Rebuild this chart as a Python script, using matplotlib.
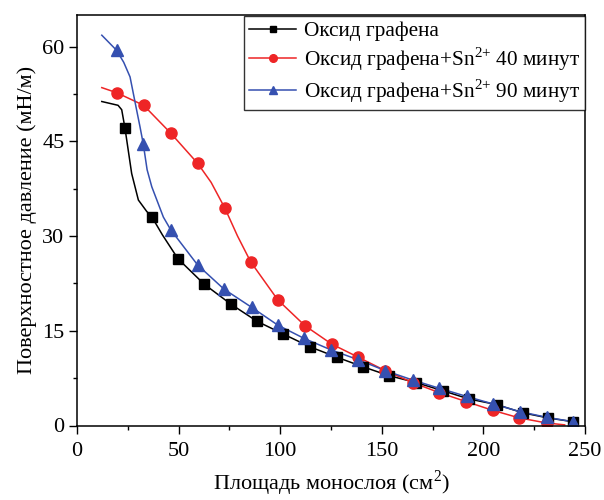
import matplotlib
matplotlib.use("Agg")
import matplotlib.pyplot as plt
from matplotlib.lines import Line2D
from matplotlib.ticker import MultipleLocator

plt.rcParams['font.family'] = ['Liberation Serif', 'DejaVu Serif']
plt.rcParams['mathtext.fontset'] = 'custom'
plt.rcParams['mathtext.rm'] = 'Liberation Serif'

labels = ["Оксид графена",
          "Оксид графена+Sn$^{2{+}}$ 40 минут",
          "Оксид графена+Sn$^{2{+}}$ 90 минут"]

# black: graphene oxide
go_line_x = [12.2, 20.2, 22.0, 23.6, 26.9, 30.2, 34.3, 36.9, 42.0, 49.7, 62.5, 75.8, 88.6, 101.4,
             114.7, 128.0, 140.7, 153.5, 166.8, 180.1, 192.9, 206.7, 219.5, 231.8, 244.1]
go_line_y = [51.3, 50.7, 50.0, 47.1, 39.9, 35.7, 33.9, 33.0, 30.2, 26.4, 22.4, 19.2, 16.5, 14.5,
             12.45, 10.8, 9.3, 7.9, 6.8, 5.5, 4.2, 3.3, 2.0, 1.2, 0.6]
go_mark_x = [23.6, 36.9, 49.7, 62.5, 75.8, 88.6, 101.4, 114.7, 128.0, 140.7, 153.5,
             166.8, 180.1, 192.9, 206.7, 219.5, 231.8, 244.1]
go_mark_y = [47.1, 33.0, 26.4, 22.4, 19.2, 16.5, 14.5, 12.45, 10.8, 9.3, 7.9,
             6.8, 5.5, 4.2, 3.3, 2.0, 1.2, 0.6]

# red: + Sn 40 min
sn40_line_x = [12.2, 19.5, 32.8, 46.1, 59.4, 66.0, 72.8, 79.0, 85.5, 98.8, 112.2, 125.3, 138.5,
               151.6, 165.2, 178.3, 191.4, 204.6, 217.7, 231.1, 240.0]
sn40_line_y = [53.5, 52.7, 50.7, 46.3, 41.5, 38.5, 34.4, 30.0, 25.9, 19.9, 15.8, 12.9, 10.8,
               8.7, 6.8, 5.2, 3.8, 2.4, 1.2, 0.4, 0.1]
sn40_mark_x = [19.5, 32.8, 46.1, 59.4, 72.8, 85.5, 98.8, 112.2, 125.3, 138.5,
               151.6, 165.2, 178.3, 191.4, 204.6, 217.7, 231.1]
sn40_mark_y = [52.7, 50.7, 46.3, 41.5, 34.4, 25.9, 19.9, 15.8, 12.9, 10.8,
               8.7, 6.8, 5.2, 3.8, 2.4, 1.2, 0.4]

# blue: + Sn 90 min
sn90_line_x = [12.2, 19.5, 23.0, 26.1, 29.0, 31.0, 32.6, 34.5, 36.8, 42.5, 46.1, 59.4, 72.3, 86.0,
               98.8, 111.7, 124.8, 138.5, 151.6, 165.2, 178.3, 191.8, 204.9, 218.0, 231.1, 244.2]
sn90_line_y = [61.8, 59.4, 57.5, 55.2, 50.5, 47.3, 44.6, 40.5, 37.8, 33.0, 31.0, 25.4, 21.6, 18.7,
               15.9, 13.8, 12.0, 10.4, 8.7, 7.2, 5.9, 4.6, 3.4, 2.2, 1.3, 0.6]
sn90_mark_x = [19.5, 32.6, 46.1, 59.4, 72.3, 86.0, 98.8, 111.7, 124.8, 138.5,
               151.6, 165.2, 178.3, 191.8, 204.9, 218.0, 231.1, 244.2]
sn90_mark_y = [59.4, 44.6, 31.0, 25.4, 21.6, 18.7, 15.9, 13.8, 12.0, 10.4,
               8.7, 7.2, 5.9, 4.6, 3.4, 2.2, 1.3, 0.6]

black = 'black'
red = '#EE2526'
blue = '#3550B0'

fig = plt.figure(figsize=(6.04, 5.0), dpi=100)
ax = fig.add_axes([0.1275, 0.149, 0.841, 0.821])

ax.plot(go_line_x, go_line_y, color=black, lw=1.1)
ax.plot(sn40_line_x, sn40_line_y, color=red, lw=1.1)
ax.plot(sn90_line_x, sn90_line_y, color=blue, lw=1.1)
ax.plot(go_mark_x, go_mark_y, 's', color=black, ms=7.5, ls='none')
ax.plot(sn40_mark_x, sn40_mark_y, 'o', color=red, ms=8, ls='none')
ax.plot(sn90_mark_x, sn90_mark_y, '^', color=blue, ms=8.5, ls='none')

ax.set_xlim(0, 250)
ax.set_ylim(0, 65)
ax.xaxis.set_major_locator(MultipleLocator(50))
ax.xaxis.set_minor_locator(MultipleLocator(25))
ax.yaxis.set_major_locator(MultipleLocator(15))
ax.yaxis.set_minor_locator(MultipleLocator(7.5))
ax.tick_params(which='both', direction='out', labelsize=16, width=1)
ax.tick_params(which='major', length=6)
ax.tick_params(which='minor', length=3)
ax.tick_params(axis='x', pad=6)
ax.tick_params(axis='y', pad=3)
for s in ax.spines.values():
    s.set_linewidth(1.1)

ax.set_xlabel("Площадь монослоя (см$^{2}$)", fontsize=16, labelpad=5)
ax.set_ylabel("Поверхностное давление (мН/м)", fontsize=16, labelpad=4)

handles = [
    Line2D([], [], color=black, marker='s', ms=5, lw=1.1),
    Line2D([], [], color=red, marker='o', ms=5.5, lw=1.1),
    Line2D([], [], color=blue, marker='^', ms=6, lw=1.1),
]
leg = ax.legend(handles, labels, loc='upper right', bbox_to_anchor=(1.0, 0.998),
                fontsize=15.3, frameon=True, fancybox=False, edgecolor='black',
                borderaxespad=0.0, handlelength=2.2, handletextpad=0.35,
                labelspacing=0.2, borderpad=0.25)
leg.get_frame().set_linewidth(1.0)

fig.savefig("out.png", dpi=100)
